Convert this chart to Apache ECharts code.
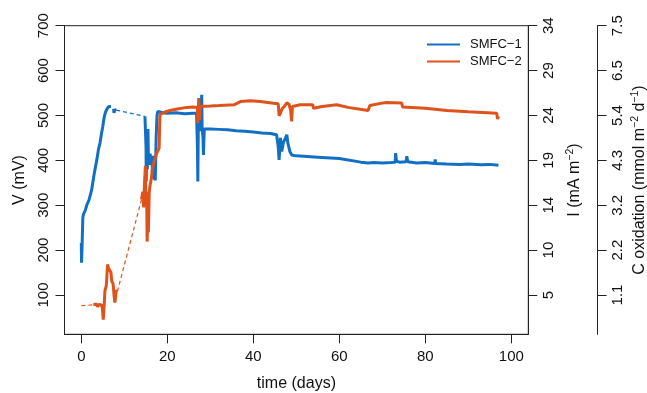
<!DOCTYPE html>
<html>
<head>
<meta charset="utf-8">
<script src="https://cdn.jsdelivr.net/npm/echarts@6/dist/echarts.min.js"></script>
<style>
  html, body { margin: 0; padding: 0; background: #fff; }
  #chart { width: 647px; height: 393px; }
</style>
</head>
<body>
<div id="chart"></div>
<script>
// tick positions (mV) and the labels of the two extra right-hand axes
const vTicks = [100, 200, 300, 400, 500, 600, 700]
const iLabels = ['5', '10', '14', '19', '24', '29', '34']
const cLabels = ['1.1', '2.2', '3.2', '4.3', '5.4', '6.5', '7.5']
const dayTicks = [0, 20, 40, 60, 80, 100]

// SMFC-1, [day, mV]
const smfc1Start = [[0, 216], [0.05, 172], [0.15, 200], [0.35, 272], [0.5, 280], [0.9, 288], [1.3, 301], [1.8, 312],
  [2.4, 334], [3.0, 370], [3.6, 401], [4.0, 425], [4.35, 439], [4.7, 460], [5.0, 476], [5.3, 495], [5.6, 507],
  [6.0, 515], [6.4, 520], [6.8, 522], [6.9, 520]]
const smfc1Dot = [[7.5, 515], [7.6, 506], [7.8, 513], [8.1, 512]]
const smfc1Gap = [[8.1, 512], [14.8, 498]]
const smfc1Main = [[14.8, 498], [15.0, 500], [15.05, 430], [15.1, 353], [15.2, 420], [15.35, 380], [15.5, 470],
  [15.6, 410], [15.8, 390], [16.0, 415], [16.2, 395], [16.4, 410], [16.6, 360], [16.8, 400], [17.0, 357],
  [17.1, 410], [17.2, 355], [17.4, 450], [17.6, 500], [17.8, 509], [18.0, 505], [19, 506], [20, 505], [22, 506],
  [24, 504], [26, 505], [26.8, 505], [27.0, 430], [27.1, 353], [27.2, 470], [27.4, 490], [27.6, 465], [27.8, 500],
  [28.0, 546], [28.1, 470], [28.3, 450], [28.4, 412], [28.6, 470], [29, 473], [30, 470], [32, 469], [34, 468],
  [36, 466], [38, 465], [40, 463], [42, 461], [44, 460], [45.4, 457], [45.6, 455], [45.8, 430], [46.0, 401],
  [46.3, 450], [46.6, 420], [47.0, 440], [47.5, 450], [47.8, 457], [48.0, 440], [48.5, 420], [48.9, 412],
  [50, 410], [55, 407], [60, 404], [65, 396], [66.7, 394], [68, 395], [70, 394], [72, 395], [73, 396], [73.1, 416],
  [73.3, 398], [74, 396], [75.5, 397], [75.7, 409], [75.9, 397], [78, 394], [80, 395], [82.2, 393], [82.3, 402],
  [82.4, 393], [85, 392], [88, 391], [90, 392], [93, 390], [95, 391], [97, 389]]

// SMFC-2, [day, mV]
const smfc2Gap1 = [[0, 76], [2.8, 78]]
const smfc2Start = [[2.8, 78], [3.2, 76], [3.5, 80], [3.8, 74], [4.1, 79], [4.4, 76], [4.7, 78], [4.9, 70],
  [5.1, 45], [5.3, 75], [5.5, 110], [5.8, 120], [6.0, 150], [6.1, 168], [6.3, 160], [6.6, 155], [6.9, 150],
  [7.1, 130], [7.4, 125], [7.6, 100], [7.8, 83], [7.9, 90], [8.1, 110], [8.4, 108]]
const smfc2Gap2 = [[8.4, 108], [14.0, 313]]
const smfc2Main = [[14.0, 313], [14.3, 330], [14.5, 295], [14.7, 350], [14.9, 388], [15.0, 300], [15.2, 330],
  [15.3, 219], [15.45, 260], [15.6, 240], [15.8, 330], [16.0, 345], [16.3, 360], [16.5, 380], [17.0, 400],
  [17.5, 415], [18.1, 427], [18.2, 470], [18.3, 502], [18.6, 505], [19.5, 508], [20.6, 511], [22, 514],
  [24.5, 518], [26, 519], [27.0, 518], [27.1, 483], [27.3, 539], [27.5, 490], [27.7, 520], [28, 521], [30, 521],
  [32, 522], [35.6, 524], [37, 531], [39.2, 533], [41.6, 531], [44.7, 527], [45.8, 526], [46.0, 499], [46.3, 505],
  [46.7, 515], [47.2, 520], [47.8, 528], [48.3, 525], [48.7, 510], [48.9, 487], [49.1, 520], [50.9, 524],
  [53.8, 524], [54.0, 516], [56, 520], [59.4, 524], [62, 518], [66.7, 511], [67.1, 522], [70.2, 528], [71, 529],
  [74.5, 528], [74.7, 519], [80, 516], [85, 511], [90, 508], [96.6, 505], [96.8, 492], [97, 498]]

const BLUE = '#1270c4'
const ORANGE = '#e0521b'
const AXIS = '#222'
const FONT = "'Liberation Sans', Arial, sans-serif"

const chart = echarts.init(document.getElementById('chart'))

function solid(name, data, color) {
  return { type: 'line', name, data, showSymbol: false, symbol: 'none', animation: false,
    lineStyle: { width: 3, color }, itemStyle: { color } }
}
function dashed(name, data, color) {
  return { type: 'line', name, data, showSymbol: false, symbol: 'none', animation: false,
    lineStyle: { width: 1.2, color, type: [4, 3] }, itemStyle: { color } }
}

function yAxisOf(labels, offset, name, gap) {
  return {
    type: 'value', min: 12.4, max: 700, position: offset == null ? 'left' : 'right', offset: offset || 0,
    splitLine: { show: false },
    axisLine: { show: true, onZero: false, lineStyle: { color: AXIS, width: 1 } },
    axisTick: { show: true, length: 9, customValues: vTicks, lineStyle: { color: AXIS } },
    axisLabel: {
      customValues: vTicks, rotate: 90, margin: 13, color: '#111', fontSize: 15, fontFamily: FONT,
      formatter: v => labels ? labels[vTicks.indexOf(Math.round(v))] : String(Math.round(v)),
    },
    name, nameLocation: 'middle', nameRotate: 90, nameGap: gap, nameMoveOverlap: false,
    nameTextStyle: {
      color: '#111', fontFamily: FONT,
      rich: {
        n: { fontSize: 16, fontFamily: FONT, color: '#111', lineHeight: 20 },
        s: { fontSize: 10.5, fontFamily: FONT, color: '#111', verticalAlign: 'top', lineHeight: 12 },
      },
    },
  }
}

const yLeft = yAxisOf(null, null, '{n|V (mV)}', 35)
const yI = yAxisOf(iLabels, 0, '{n|I (mA m}{s|−2}{n|)}', 36)
const yC = yAxisOf(cLabels, 69.3, '{n|C oxidation (mmol m}{s|−2}{n| d}{s|−1}{n|)}', 32)

chart.setOption({
  backgroundColor: '#fff',
  textStyle: { fontFamily: FONT },
  grid: {
    left: 64.5, right: 118.7, top: 25.7, bottom: 58.7, outerBoundsMode: 'none', containLabel: false,
    show: true, borderColor: AXIS, borderWidth: 1, backgroundColor: 'transparent',
  },
  legend: {
    data: ['SMFC−1', 'SMFC−2'], orient: 'vertical', left: 422, top: 33, itemGap: 4,
    icon: 'rect', itemWidth: 33, itemHeight: 2,
    textStyle: { fontSize: 13, color: '#111', fontFamily: FONT, padding: [0, 0, 0, 5] },
  },
  xAxis: {
    type: 'value', min: -3.91, max: 103.95,
    splitLine: { show: false },
    axisLine: { show: true, onZero: false, lineStyle: { color: AXIS, width: 1 } },
    axisTick: { show: true, length: 9, customValues: dayTicks, lineStyle: { color: AXIS } },
    axisLabel: { customValues: dayTicks, margin: 15, color: '#111', fontSize: 15, fontFamily: FONT },
    name: 'time (days)', nameLocation: 'middle', nameGap: 41, nameMoveOverlap: false,
    nameTextStyle: { fontSize: 16, color: '#111', fontFamily: FONT },
  },
  yAxis: [yLeft, yI, yC],
  series: [
    solid('SMFC−1', smfc1Start, BLUE),
    solid('SMFC−1 ', smfc1Dot, BLUE),
    dashed('SMFC−1 gap', smfc1Gap, BLUE),
    solid('SMFC−1  ', smfc1Main, BLUE),
    dashed('SMFC−2 gap', smfc2Gap1, ORANGE),
    solid('SMFC−2', smfc2Start, ORANGE),
    dashed('SMFC−2 gap2', smfc2Gap2, ORANGE),
    solid('SMFC−2 ', smfc2Main, ORANGE),
  ],
})
</script>
</body>
</html>
